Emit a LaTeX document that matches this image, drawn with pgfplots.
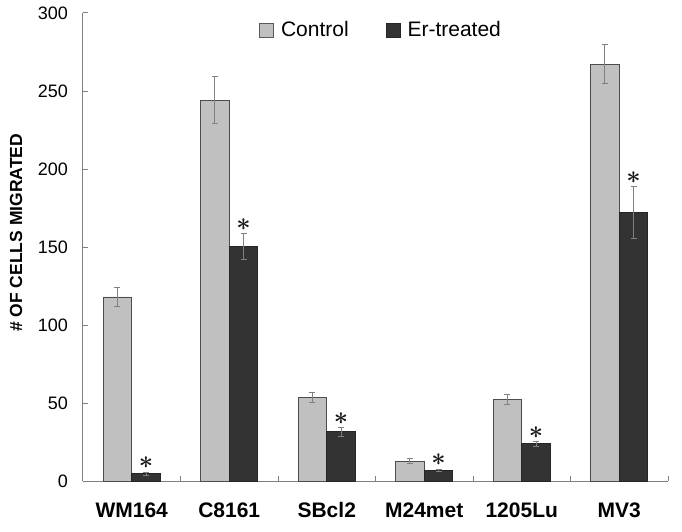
\documentclass[border=0pt]{standalone}
\usepackage{bm}
\usepackage{fontspec}
\setmainfont{Liberation Sans}
\usepackage{pgfplots}
\pgfplotsset{compat=1.18}
\definecolor{ctrl}{HTML}{C0C0C0}
\definecolor{er}{HTML}{333333}
\definecolor{axgray}{HTML}{808080}
\pgfplotstableread{
xc xe ctrl ctrlerr er ererr star
-0.1462 0.1462 118 6.2 4.7 1.0 5.8
0.8538 1.1462 244 15 150.6 8.3 158.8
1.8538 2.1462 53.5 3.3 31.5 2.7 34.2
2.8538 3.1462 12.8 1.6 6.9 0.6 7.6
3.8538 4.1462 52.3 3.2 23.8 1.5 25.3
4.8538 5.1462 267 12.5 172 16.8 188.8
}\datatable
\begin{document}
\begin{tikzpicture}
\useasboundingbox (-83pt,-50pt) rectangle (599pt,481pt);
\begin{axis}[
  scale only axis, width=585pt, height=468pt,
  xmin=-0.5, xmax=5.5, ymin=0, ymax=300,
  axis x line*=bottom, axis y line*=left,
  axis line style={axgray, line width=1pt},
  xtick={0,...,5},
  xticklabels={WM164,C8161,SBcl2,M24met,1205Lu,MV3},
  minor xtick={-0.5,0.5,1.5,2.5,3.5,4.5,5.5},
  ytick={0,50,...,300},
  tick align=inside,
  major tick length=5pt, minor tick length=5pt,
  major x tick style={draw=none},
  every tick/.style={axgray, line width=1pt},
  minor tick style={axgray, line width=1pt},
  xticklabel style={font=\fontsize{21}{21}\selectfont\bfseries, anchor=base, inner sep=0pt, yshift=-36pt},
  yticklabel style={font=\fontsize{18}{18}\selectfont, anchor=east, inner sep=0pt, xshift=-15pt},
  /pgf/number format/assume math mode=true,
  ylabel={\# OF CELLS MIGRATED},
  ylabel style={font=\fontsize{17.5}{17.5}\selectfont\bfseries, at={(axis description cs:-0.1145,0.53)}, anchor=center},
  legend image code/.code={\draw[#1, line width=0.8pt] (0pt,-7pt) rectangle (14pt,7pt);},
  legend columns=2,
  legend style={draw=none, fill=none, at={(axis description cs:0.3009,0.9637)}, anchor=west, inner sep=0pt,
    font=\fontsize{21}{21}\selectfont,
    /tikz/every odd column/.append style={column sep=5pt},
    /tikz/every even column/.append style={column sep=35pt}},
]
\addlegendimage{fill=ctrl, draw=black!65}
\addlegendentry{Control}
\addlegendimage{fill=er, draw=black!85}
\addlegendentry{Er-treated}
\addplot[ybar, bar width=28.5pt, bar shift=0pt, fill=ctrl, draw=black!70, line width=0.8pt, forget plot,
  error bars/.cd, y dir=both, y explicit,
  error bar style={axgray, line width=1pt},
  error mark options={rotate=90, axgray, mark size=3pt, line width=1pt}]
  table[x=xc, y=ctrl, y error=ctrlerr] {\datatable};
\addplot[ybar, bar width=28.5pt, bar shift=0pt, fill=er, draw=black!85, line width=0.8pt, forget plot,
  error bars/.cd, y dir=both, y explicit,
  error bar style={axgray, line width=1pt},
  error mark options={rotate=90, axgray, mark size=3pt, line width=1pt}]
  table[x=xe, y=er, y error=ererr] {\datatable};
\addplot[draw=none, mark=none, forget plot, nodes near coords={$\bm{\ast}$},
  every node near coord/.append style={font=\fontsize{25}{25}\selectfont, anchor=south, inner sep=0pt, yshift=3pt, text=black!90}]
  table[x=xe, y=star] {\datatable};
\end{axis}
\end{tikzpicture}
\end{document}
